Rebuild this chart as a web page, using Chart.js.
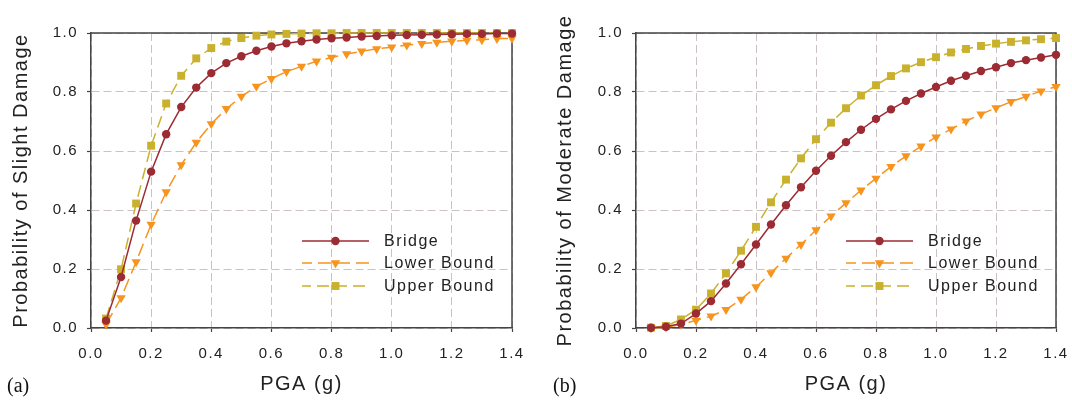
<!DOCTYPE html>
<html>
<head>
<meta charset="utf-8">
<title>Fragility curves</title>
<script src="https://cdn.jsdelivr.net/npm/chart.js@4.4.1/dist/chart.umd.min.js"></script>
<style>
  html, body { margin: 0; padding: 0; background: #fff; }
  #wrap { position: relative; width: 1072px; height: 400px; overflow: hidden; }
  canvas { position: absolute; top: 0; }
  #chart-slight { left: 0; }
  #chart-moderate { left: 536px; }
  .tag { position: absolute; top: 375px; line-height: 20px; font-size: 20px; color: #111;
         font-family: "Liberation Serif", "DejaVu Serif", serif; }
</style>
</head>
<body>
<div id="wrap">
  <canvas id="chart-slight" width="536" height="400"></canvas>
  <canvas id="chart-moderate" width="536" height="400"></canvas>
  <span class="tag" style="left:7px">(a)</span>
  <span class="tag" style="left:553px">(b)</span>
</div>
<script>
// PGA levels (g)
var pga = [0.05, 0.10, 0.15, 0.20, 0.25, 0.30, 0.35, 0.40, 0.45, 0.50, 0.55, 0.60, 0.65, 0.70,
           0.75, 0.80, 0.85, 0.90, 0.95, 1.00, 1.05, 1.10, 1.15, 1.20, 1.25, 1.30, 1.35, 1.40];

var xTicks = [0, 0.2, 0.4, 0.6, 0.8, 1.0, 1.2, 1.4];
var yTicks = [0, 0.2, 0.4, 0.6, 0.8, 1.0];

// slight damage state
var slightBridge = [0.025, 0.173, 0.364, 0.530, 0.657, 0.749, 0.815, 0.864, 0.898, 0.921, 0.940, 0.954, 0.965, 0.972,
                    0.978, 0.982, 0.985, 0.988, 0.990, 0.992, 0.993, 0.994, 0.995, 0.996, 0.997, 0.997, 0.998, 0.998];
var slightLower = [0.012, 0.102, 0.224, 0.351, 0.461, 0.553, 0.629, 0.692, 0.743, 0.785, 0.819, 0.845, 0.869, 0.887,
                   0.904, 0.917, 0.929, 0.938, 0.946, 0.952, 0.959, 0.964, 0.968, 0.972, 0.975, 0.977, 0.981, 0.982];
var slightUpper = [0.032, 0.199, 0.422, 0.618, 0.761, 0.855, 0.914, 0.949, 0.971, 0.983, 0.991, 0.995, 0.997, 0.998,
                   0.999, 0.999, 1.000, 1.000, 1.000, 1.000, 1.000, 1.000, 1.000, 1.000, 1.000, 1.000, 1.000, 1.000];

// moderate damage state
var moderateBridge = [0.001, 0.004, 0.015, 0.049, 0.091, 0.151, 0.216, 0.283, 0.351, 0.416, 0.477, 0.533, 0.584, 0.630,
                      0.672, 0.709, 0.741, 0.770, 0.795, 0.817, 0.838, 0.855, 0.871, 0.884, 0.898, 0.908, 0.917, 0.926];
var moderateLower = [0.000, 0.003, 0.012, 0.026, 0.040, 0.062, 0.097, 0.139, 0.187, 0.236, 0.283, 0.332, 0.379, 0.424,
                     0.467, 0.507, 0.547, 0.583, 0.616, 0.647, 0.674, 0.701, 0.725, 0.746, 0.767, 0.785, 0.803, 0.818];
var moderateUpper = [0.001, 0.007, 0.029, 0.062, 0.117, 0.185, 0.262, 0.343, 0.426, 0.503, 0.575, 0.640, 0.696, 0.745,
                     0.788, 0.823, 0.854, 0.880, 0.901, 0.918, 0.934, 0.946, 0.956, 0.964, 0.970, 0.975, 0.979, 0.983];

var seriesLabels = ['Bridge', 'Lower Bound', 'Upper Bound'];

var FONT = '"Liberation Sans", Arial, sans-serif';
var TEXT = '#222';

var looks = [
  { color: '#9c2b33', dash: [], point: 'circle', radius: 4.2, rotation: 0 },
  { color: '#f7941e', dash: [13, 6], point: 'triangle', radius: 5.4, rotation: 180 },
  { color: '#c9b12d', dash: [12, 6], point: 'rect', radius: 5.6, rotation: 0 }
];

function toPoints(ys) {
  return pga.map(function (x, i) { return { x: x, y: ys[i] }; });
}

// wide text like the plotting package this came from
var spacing = {
  id: 'spacing',
  beforeLayout: function (chart) { chart.ctx.letterSpacing = '1.5px'; },
  beforeDraw: function (chart) { chart.ctx.letterSpacing = '1.5px'; }
};

// dark top/right edges of the plot box
var frame = {
  id: 'frame',
  beforeDatasetsDraw: function (chart) {
    var ctx = chart.ctx, a = chart.chartArea;
    ctx.save();
    ctx.strokeStyle = '#444';
    ctx.lineWidth = 1.5;
    ctx.setLineDash([]);
    ctx.beginPath();
    ctx.moveTo(a.left, a.top);
    ctx.lineTo(a.right, a.top);
    ctx.lineTo(a.right, a.bottom);
    ctx.stroke();
    ctx.restore();
  }
};

function marker(ctx, style, x, y, r, color) {
  ctx.fillStyle = color;
  ctx.beginPath();
  if (style === 'circle') {
    ctx.arc(x, y, r, 0, Math.PI * 2);
  } else if (style === 'triangle') {
    // pointing down
    ctx.moveTo(x - r * 0.866, y - r * 0.5);
    ctx.lineTo(x + r * 0.866, y - r * 0.5);
    ctx.lineTo(x, y + r);
    ctx.closePath();
  } else {
    var h = r * Math.SQRT1_2;
    ctx.rect(x - h, y - h, 2 * h, 2 * h);
  }
  ctx.fill();
}

// legend sitting in the lower right of the plot
var insetLegend = {
  id: 'insetLegend',
  afterDraw: function (chart) {
    var ctx = chart.ctx, a = chart.chartArea;
    var x0 = a.right - 210, x1 = a.right - 143, xm = (x0 + x1) / 2, xt = a.right - 128;
    var rows = [87, 65, 42];
    chart.data.datasets.forEach(function (ds, i) {
      var y = a.bottom - rows[i];
      ctx.save();
      ctx.strokeStyle = ds.borderColor;
      ctx.lineWidth = ds.borderWidth;
      ctx.setLineDash(ds.borderDash);
      ctx.lineDashOffset = 3;
      ctx.beginPath();
      ctx.moveTo(x0, y);
      ctx.lineTo(x1, y);
      ctx.stroke();
      ctx.setLineDash([]);
      marker(ctx, ds.pointStyle, xm, y, ds.pointRadius, ds.pointBackgroundColor);
      ctx.fillStyle = TEXT;
      ctx.font = '16px ' + FONT;
      ctx.textAlign = 'left';
      ctx.textBaseline = 'middle';
      ctx.fillText(ds.label, xt, y + 1);
      ctx.restore();
    });
  }
};

function makeChart(id, yTitle, series, axisWidth, titlePad, rightPad) {
  var datasets = series.map(function (ys, i) {
    var lk = looks[i];
    return {
      label: seriesLabels[i],
      data: toPoints(ys),
      borderColor: lk.color,
      backgroundColor: lk.color,
      borderWidth: 1.5,
      borderDash: lk.dash,
      pointStyle: lk.point,
      pointRadius: lk.radius,
      pointRotation: lk.rotation,
      pointBackgroundColor: lk.color,
      pointBorderWidth: 0,
      tension: 0,
      clip: false
    };
  });

  var tickFont = { family: FONT, size: 15 };
  var titleFont = { family: FONT, size: 20 };

  return new Chart(document.getElementById(id), {
    type: 'line',
    data: { datasets: datasets },
    options: {
      responsive: false,
      animation: false,
      devicePixelRatio: 1,
      layout: { padding: { top: 33, right: rightPad, bottom: 0, left: 0 } },
      plugins: { legend: { display: false }, tooltip: { enabled: false } },
      scales: {
        x: {
          type: 'linear',
          min: 0,
          max: 1.4,
          afterBuildTicks: function (s) { s.ticks = xTicks.map(function (v) { return { value: v }; }); },
          afterFit: function (s) { s.height = 72; s.paddingLeft = 0; s.paddingRight = 0; },
          ticks: { font: tickFont, color: TEXT, padding: 13, maxRotation: 0, autoSkip: false,
                   callback: function (v) { return v.toFixed(1); } },
          grid: { color: '#cbc3c3', lineWidth: 1, tickLength: 4, tickColor: '#444', tickWidth: 1.2 },
          border: { color: '#444', width: 1.5, dash: [8, 4] },
          title: { display: true, text: 'PGA (g)', font: titleFont, color: TEXT, padding: { top: 0, bottom: 4 } }
        },
        y: {
          type: 'linear',
          min: 0,
          max: 1,
          afterBuildTicks: function (s) { s.ticks = yTicks.map(function (v) { return { value: v }; }); },
          afterFit: function (s) { s.width = axisWidth; s.paddingTop = 0; s.paddingBottom = 0; },
          ticks: { font: tickFont, color: TEXT, padding: 9,
                   callback: function (v) { return v.toFixed(1); } },
          grid: { color: '#cbc3c3', lineWidth: 1, tickLength: 4, tickColor: '#444', tickWidth: 1.2 },
          border: { color: '#444', width: 1.5, dash: [8, 4] },
          title: { display: true, text: yTitle, font: titleFont, color: TEXT, padding: { top: titlePad, bottom: 0 } }
        }
      }
    },
    plugins: [spacing, frame, insetLegend]
  });
}

makeChart('chart-slight', 'Probability of Slight Damage',
          [slightBridge, slightLower, slightUpper], 91, 9, 24);
makeChart('chart-moderate', 'Probability of Moderate Damage',
          [moderateBridge, moderateLower, moderateUpper], 100, 17, 16);
</script>
</body>
</html>
